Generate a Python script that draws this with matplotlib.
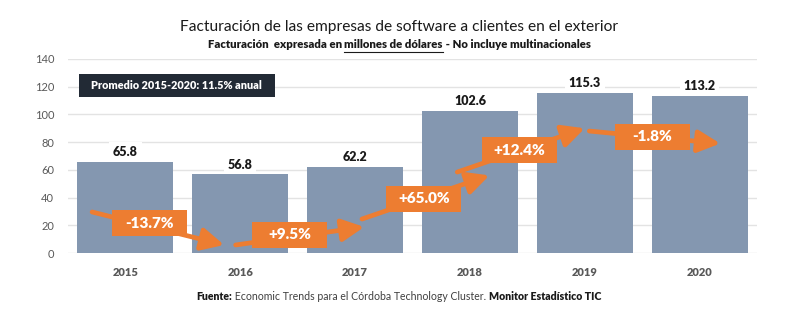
import matplotlib.pyplot as plt
from matplotlib.patches import Rectangle
from matplotlib.transforms import ScaledTranslation

plt.rcParams['font.family'] = ['Lato', 'DejaVu Sans']

years = ['2015', '2016', '2017', '2018', '2019', '2020']
facturacion = [65.8, 56.8, 62.2, 102.6, 115.3, 113.2]
variacion = ['-13.7%', '+9.5%', '+65.0%', '+12.4%', '-1.8%']

# arrow start/end (x, y) and label position for each year-on-year change
flechas = [((-0.29, 29.6), (0.86, 5.8)),
           ((0.96, 5.8), (2.08, 18.8)),
           ((2.06, 24.5), (3.17, 56.0)),
           ((2.89, 58.4), (4.00, 90.0)),
           ((4.04, 88.0), (5.18, 79.0))]
etiquetas_pos = [(0.21, 21.6), (1.43, 13.0), (2.60, 39.0), (3.43, 74.0), (4.59, 84.0)]

azul = '#8497b0'
naranja = '#ed7d31'
gris = '#595959'

fig = plt.figure(figsize=(7.98, 3.25), dpi=100)
ax = fig.add_axes([0.0852, 0.2215, 0.8634, 0.597])

x = range(len(years))
ax.bar(x, facturacion, width=0.837, color=azul, zorder=2)
ax.set_xlim(-0.5, 5.5)
ax.set_ylim(0, 140)
ax.set_yticks(range(0, 141, 20))
ax.yaxis.grid(True, color='#e3e3e3', lw=1, zorder=0)
ax.set_axisbelow(True)
for s in ax.spines.values():
    s.set_visible(False)
ax.tick_params(length=0)
ax.tick_params(axis='y', labelsize=8, labelcolor=gris, pad=10)
ax.set_xticks(list(x))
ax.set_xticklabels(years, fontsize=8, fontweight='heavy', color=gris)
ax.tick_params(axis='x', pad=10)

# values on top of the bars
for i, v in enumerate(facturacion):
    ax.annotate(f'{v:.1f}', (i, v), xytext=(0, 7), textcoords='offset points',
                ha='center', va='center', fontsize=9, fontweight='heavy',
                color='#1a1a1a', zorder=4,
                bbox=dict(boxstyle='square,pad=0.3', fc='white', ec='none'))

# growth arrows with orange labels
for (p0, p1), (lx, ly), txt in zip(flechas, etiquetas_pos, variacion):
    ax.annotate('', xy=p1, xytext=p0,
                arrowprops=dict(arrowstyle='-|>,head_length=0.9,head_width=0.45',
                                color=naranja, lw=3.4, mutation_scale=15,
                                shrinkA=0, shrinkB=0), zorder=5)
    tr = fig.dpi_scale_trans + ScaledTranslation(lx, ly, ax.transData)
    ax.add_patch(Rectangle((-0.375, -0.13), 0.75, 0.26, transform=tr,
                           fc=naranja, ec='none', zorder=6, clip_on=False))
    ax.text(lx, ly, txt, ha='center', va='center', fontsize=11,
            fontweight='heavy', color='white', zorder=7)

# average growth box
ax.add_patch(Rectangle((0.016, 0.804), 0.284, 0.119, transform=ax.transAxes,
                       fc='#222a35', ec='none', zorder=6))
ax.text(0.158, 0.8635, 'Promedio 2015-2020: 11.5% anual', transform=ax.transAxes,
        ha='center', va='center', fontsize=7.8, fontweight='heavy', color='white',
        zorder=7)

fig.text(0.5, 1 - 27 / 325, 'Facturación de las empresas de software a clientes en el exterior',
         ha='center', va='center', fontsize=11.2, color='#1a1a1a')

fig.canvas.draw()
r = fig.canvas.get_renderer()

# subtitle in three pieces, the middle one underlined
sub_partes = [('Facturación  expresada en ', 'heavy', '#1a1a1a', False),
              ('millones de dólares', 'heavy', '#1a1a1a', True),
              (' - No incluye multinacionales', 'heavy', '#1a1a1a', False)]
objs = [fig.text(0, 1 - 45 / 325, p[0], fontsize=8.2, fontweight=p[1], color=p[2],
                 ha='left', va='center') for p in sub_partes]
anchos = [t.get_window_extent(r).width / fig.bbox.width for t in objs]
x0 = 0.5 - sum(anchos) / 2
for t, w, p in zip(objs, anchos, sub_partes):
    t.set_x(x0)
    if p[3]:
        y_sub = 1 - 51.5 / 325
        fig.add_artist(plt.Line2D([x0, x0 + w], [y_sub, y_sub], color='#1a1a1a', lw=0.8))
    x0 += w

# source line
pie_partes = [('Fuente:', 'heavy', '#1a1a1a'),
              (' Economic Trends para el Córdoba Technology Cluster. ', 'normal', '#404040'),
              ('Monitor Estadístico TIC', 'heavy', '#1a1a1a')]
objs = [fig.text(0, 1 - 297 / 325, p[0], fontsize=7.6, fontweight=p[1], color=p[2],
                 ha='left', va='center') for p in pie_partes]
anchos = [t.get_window_extent(r).width / fig.bbox.width for t in objs]
x0 = 0.5 - sum(anchos) / 2
for t, w in zip(objs, anchos):
    t.set_x(x0)
    x0 += w

fig.savefig('out.png', dpi=100)
